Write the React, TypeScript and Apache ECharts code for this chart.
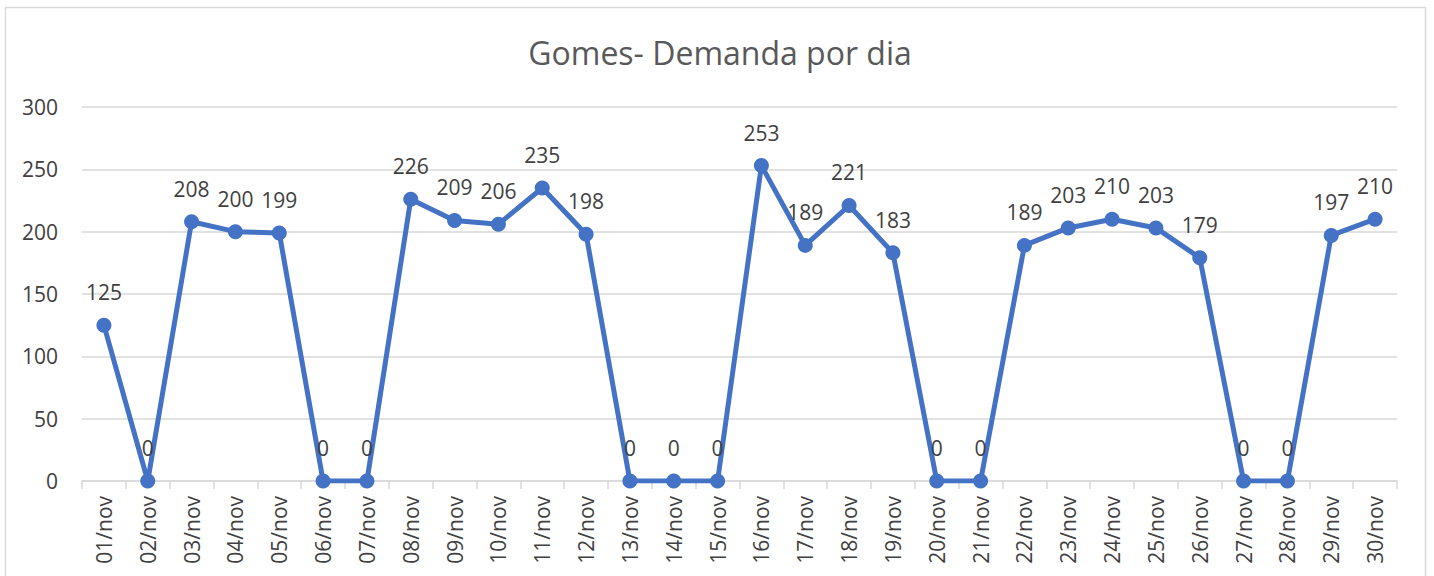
import React, { useEffect, useRef } from "react";
import * as echarts from "echarts";

const title = "Gomes- Demanda por dia";
const days: string[] = [
  "01/nov", "02/nov", "03/nov", "04/nov", "05/nov", "06/nov", "07/nov", "08/nov", "09/nov", "10/nov",
  "11/nov", "12/nov", "13/nov", "14/nov", "15/nov", "16/nov", "17/nov", "18/nov", "19/nov", "20/nov",
  "21/nov", "22/nov", "23/nov", "24/nov", "25/nov", "26/nov", "27/nov", "28/nov", "29/nov", "30/nov",
];
const demand: number[] = [
  125, 0, 208, 200, 199, 0, 0, 226, 209, 206,
  235, 198, 0, 0, 0, 253, 189, 221, 183, 0,
  0, 189, 203, 210, 203, 179, 0, 0, 197, 210,
];

const FONT = "'Open Sans', sans-serif";
const TEXT = "#404040";

export default function App() {
  const ref = useRef<HTMLDivElement>(null);
  useEffect(() => {
    if (!ref.current) return;
    const chart = echarts.init(ref.current, null, { renderer: "svg" });
    chart.setOption({
      animation: false,
      backgroundColor: "#ffffff",
      title: {
        text: title,
        left: 715,
        textAlign: "center",
        top: 31,
        textStyle: { fontFamily: FONT, fontSize: 32, fontWeight: "normal", color: "#595959" },
      },
      graphic: [
        {
          type: "rect",
          shape: { x: 5.5, y: 7.5, width: 1420, height: 620 },
          style: { fill: "none", stroke: "#d9d9d9", lineWidth: 1.5 },
          silent: true,
          z: -1,
        },
      ],
      grid: { left: 82, right: 37, top: 107, bottom: 95 },
      xAxis: {
        type: "category",
        data: days,
        boundaryGap: true,
        axisLine: { lineStyle: { color: "#d9d9d9", width: 1.5 } },
        axisTick: { show: true, length: 8, lineStyle: { color: "#d9d9d9", width: 1.5 } },
        axisLabel: {
          rotate: 90,
          interval: 0,
          margin: 15,
          fontFamily: FONT,
          fontSize: 21,
          color: TEXT,
        },
      },
      yAxis: {
        type: "value",
        min: 0,
        max: 300,
        interval: 50,
        axisLine: { show: false },
        axisTick: { show: false },
        axisLabel: { margin: 24, fontFamily: FONT, fontSize: 21, color: TEXT },
        splitLine: { lineStyle: { color: "#d9d9d9", width: 1.5 } },
      },
      series: [
        {
          type: "line",
          data: demand,
          symbol: "circle",
          symbolSize: 15,
          lineStyle: { color: "#4472C4", width: 5 },
          itemStyle: { color: "#4472C4" },
          label: {
            show: true,
            position: "top",
            distance: 15,
            fontFamily: FONT,
            fontSize: 21,
            color: TEXT,
          },
        },
      ],
    });
    return () => chart.dispose();
  }, []);
  return (
    <div
      ref={ref}
      style={{ position: "fixed", left: 0, top: 0, width: 1434, height: 576, background: "#fff" }}
    />
  );
}
